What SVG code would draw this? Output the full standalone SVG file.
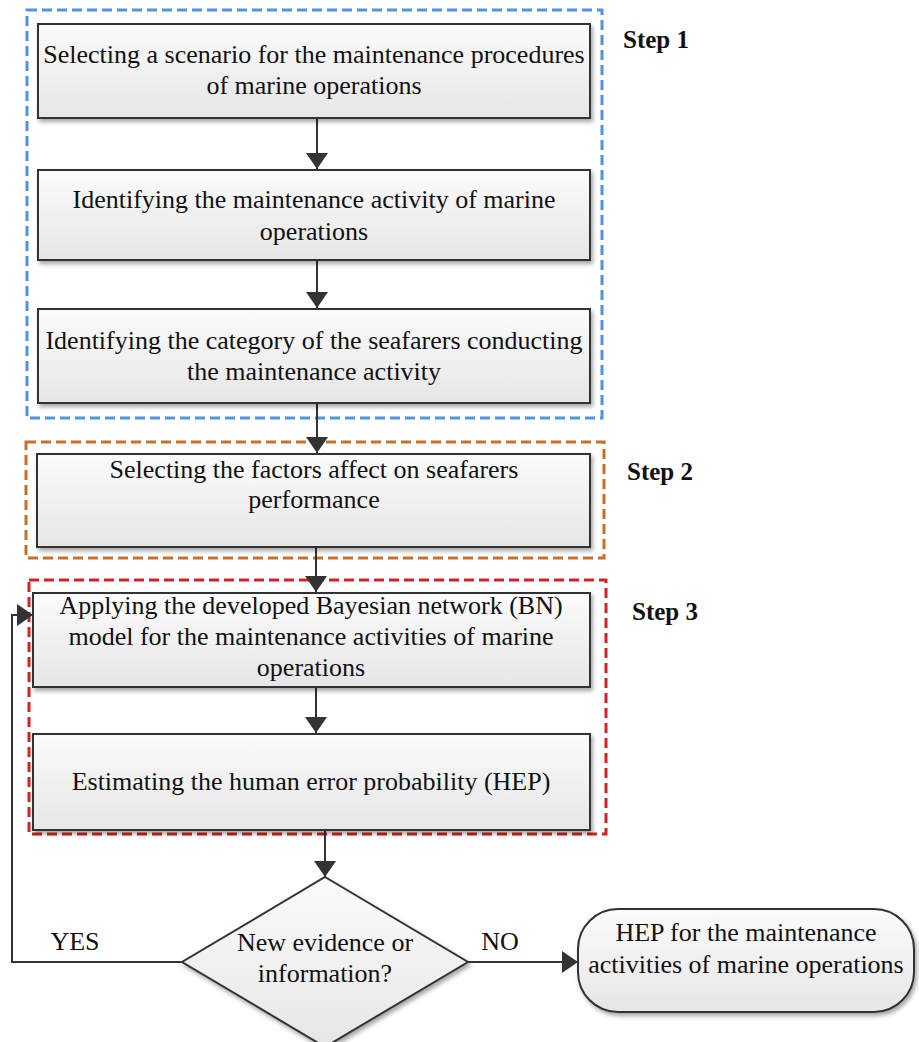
<svg xmlns="http://www.w3.org/2000/svg" width="919" height="1042" viewBox="0 0 919 1042">
<defs>
<linearGradient id="g" x1="0" y1="0" x2="0" y2="1">
<stop offset="0" stop-color="#fbfbfb"/>
<stop offset="1" stop-color="#e6e6e6"/>
</linearGradient>
<filter id="sh" x="-5%" y="-5%" width="110%" height="115%">
<feDropShadow dx="2" dy="3" stdDeviation="2" flood-color="#000" flood-opacity="0.35"/>
</filter>
<marker id="ahb" viewBox="0 0 16 22" refX="16" refY="11" markerWidth="16" markerHeight="22" orient="auto" markerUnits="userSpaceOnUse">
<path d="M0,0 L16,11 L0,22 Z" fill="#333"/>
</marker>
</defs>
<style>
.box{fill:url(#g);stroke:#333;stroke-width:2;filter:url(#sh)}
.t{font-family:"Liberation Serif","Times New Roman",serif;font-size:26px;fill:#111;text-anchor:middle}
.step{font-family:"Liberation Serif","Times New Roman",serif;font-size:25px;font-weight:bold;fill:#111}
.dash{fill:none;stroke-width:3;stroke-dasharray:10 5}
.c{fill:none;stroke:#333;stroke-width:2}
</style>
<rect width="919" height="1042" fill="#fff"/>

<g id="step1-frame"><rect class="dash" x="27" y="10" width="575" height="408" stroke="#4d94e8"/></g>
<g id="step2-frame"><rect class="dash" x="26" y="442" width="578" height="116" stroke="#c8702a"/></g>
<g id="step3-frame"><rect class="dash" x="29" y="580" width="577" height="254" stroke="#d42222"/></g>

<g id="connectors">
<line class="c" x1="317" y1="118" x2="317" y2="169" marker-end="url(#ahb)"/>
<line class="c" x1="317" y1="261" x2="317" y2="308" marker-end="url(#ahb)"/>
<line class="c" x1="317" y1="404" x2="317" y2="453" marker-end="url(#ahb)"/>
<line class="c" x1="316" y1="548" x2="316" y2="592" marker-end="url(#ahb)"/>
<line class="c" x1="316" y1="688" x2="316" y2="733" marker-end="url(#ahb)"/>
<line class="c" x1="325" y1="831" x2="325" y2="877" marker-end="url(#ahb)"/>
<polyline class="c" points="182,962 12,962 12,615 33,615" marker-end="url(#ahb)"/>
<line class="c" x1="468" y1="962" x2="578" y2="962" marker-end="url(#ahb)"/>
</g>

<g id="n1"><rect class="box" x="38" y="24" width="552" height="94"/>
<text class="t" x="314" y="63">Selecting a scenario for the maintenance procedures</text>
<text class="t" x="314" y="94">of marine operations</text></g>

<g id="n2"><rect class="box" x="38" y="170" width="552" height="90"/>
<text class="t" x="314" y="208">Identifying the maintenance activity of marine</text>
<text class="t" x="314" y="240">operations</text></g>

<g id="n3"><rect class="box" x="38" y="309" width="552" height="94"/>
<text class="t" x="314" y="349">Identifying the category of the seafarers conducting</text>
<text class="t" x="314" y="380">the maintenance activity</text></g>

<g id="n4"><rect class="box" x="37" y="454" width="553" height="93"/>
<text class="t" x="314" y="478">Selecting the factors affect on seafarers</text>
<text class="t" x="314" y="508">performance</text></g>

<g id="n5"><rect class="box" x="33" y="593" width="557" height="94"/>
<text class="t" x="311" y="614">Applying the developed Bayesian network (BN)</text>
<text class="t" x="311" y="645">model for the maintenance activities of marine</text>
<text class="t" x="311" y="676">operations</text></g>

<g id="n6"><rect class="box" x="33" y="734" width="557" height="96"/>
<text class="t" x="311" y="790">Estimating the human error probability (HEP)</text></g>

<g id="d1"><polygon class="box" points="325,877 468,962 325,1047 182,962"/>
<text class="t" x="325" y="951">New evidence or</text>
<text class="t" x="325" y="982">information?</text></g>

<g id="term"><rect class="box" x="578" y="909" width="336" height="103" rx="40" ry="40"/>
<text class="t" x="746" y="941">HEP for the maintenance</text>
<text class="t" x="746" y="973">activities of marine operations</text></g>

<g id="labels">
<text class="t" x="75" y="950">YES</text>
<text class="t" x="500" y="950">NO</text>
<text class="step" x="623" y="48">Step 1</text>
<text class="step" x="627" y="480">Step 2</text>
<text class="step" x="632" y="620">Step 3</text>
</g>
</svg>
